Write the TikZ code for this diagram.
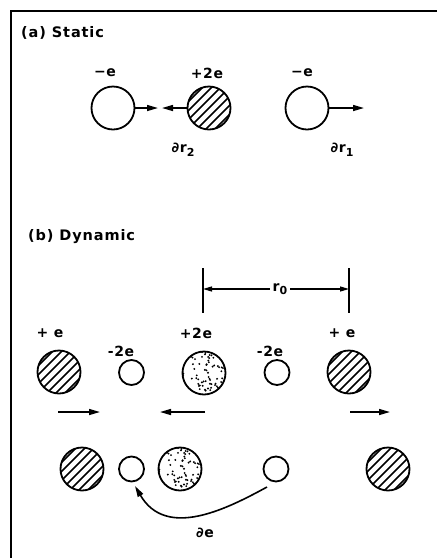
\documentclass[tikz,border=0pt]{standalone}
\usepackage{fontspec}
\setmainfont{DejaVu Sans}
\usetikzlibrary{arrows.meta,calc}
\newcommand{\labfont}{\fontsize{14}{16}\bfseries\addfontfeatures{LetterSpace=5}}
\newcommand{\titfont}{\fontsize{14.5}{16}\bfseries\addfontfeatures{LetterSpace=6}}
\newcommand{\subfont}{\fontsize{11}{12}\bfseries}
\begin{document}
\begin{tikzpicture}[x=1pt,y=-1pt,
  ball/.style={circle,draw,line width=1.8pt,inner sep=0pt,minimum size=#1},
  ball/.default=43pt,
  hatched/.style={ball,path picture={
      \foreach \i in {-5,...,5}
        \draw[line width=1.6pt] ($(path picture bounding box.center)+(\i*9,0)+(-30,30)$) -- ++(60,-60);}},
  dotted/.style={ball,path picture={
      \pgfmathsetseed{11}
      \foreach \k in {1,...,70}
        \fill ($(path picture bounding box.center)+({21*rand},{21*rand})$) circle (1.05);}},
  small/.style={ball=25pt},
  lab/.style={font=\labfont,inner sep=0pt},
  tit/.style={font=\titfont,inner sep=0pt,anchor=west},
  arr/.style={line width=1.5pt,-{Triangle[length=11pt,width=6pt]}},
  dim/.style={line width=1.3pt,-{Triangle[length=9pt,width=5pt]}}]
\useasboundingbox (0,0) rectangle (437,558);
% frame
\coordinate (fr1) at (437,11);
\coordinate (fr2) at (11,11);
\coordinate (fr3) at (11,558);
\draw[line width=2pt] (fr1) -- (fr2) -- (fr3);

% (a) Static
\node[tit] (ta) at (21,33) {(a) Static};
\node[ball] (La) at (113,108) {};
\node[hatched] (Ha) at (209,108) {};
\node[ball] (Ra) at (307,108) {};
\node[lab] (lLa) at (105,73) {−e};
\node[lab] (lHa) at (207,73) {+2e};
\node[lab] (lRa) at (302,73) {−e};
\coordinate (aL) at (158,108);
\coordinate (aH) at (162,108);
\coordinate (aR) at (364,108);
\draw[arr] (La.east) -- (aL);
\draw[arr] (Ha.west) -- (aH);
\draw[arr] (Ra.east) -- (aR);
\node[lab] (dr2) at (183,150) {∂r\raisebox{-3.5pt}{\subfont 2}};
\node[lab] (dr1) at (342,150) {∂r\raisebox{-3.5pt}{\subfont 1}};

% (b) Dynamic
\node[tit] (tb) at (28,237) {(b) Dynamic};
\coordinate (b1t) at (203,268);
\coordinate (b1b) at (203,313);
\coordinate (b2t) at (349,268);
\coordinate (b2b) at (349,313);
\draw[line width=1.5pt] (b1t) -- (b1b);
\draw[line width=1.5pt] (b2t) -- (b2b);
\node[lab] (r0) at (280,289) {r\raisebox{-3.5pt}{\subfont 0}};
\draw[dim] (r0.west) ++(-3,0) coordinate (r0w) -- (b1t |- r0w);
\draw[dim] (r0.east) ++(3,0) coordinate (r0e) -- (b2t |- r0e);

% top row
\node[hatched] (H1) at (59,372) {};
\node[small] (s1) at (131.5,372.5) {};
\node[dotted] (D1) at (204,373) {};
\node[small] (s2) at (277,372.5) {};
\node[hatched] (H2) at (349,372) {};
\node[lab] (lH1) at (50,333) {+ e};
\node[lab] (ls1) at (121,351) {-2e};
\node[lab] (lD1) at (196,333) {+2e};
\node[lab] (ls2) at (270,351) {-2e};
\node[lab] (lH2) at (342,333) {+ e};

% arrows
\coordinate (m1a) at (58,412); \coordinate (m1b) at (100,412);
\coordinate (m2a) at (205,412); \coordinate (m2b) at (160,412);
\coordinate (m3a) at (350,412); \coordinate (m3b) at (390,412);
\draw[arr] (m1a) -- (m1b);
\draw[arr] (m2a) -- (m2b);
\draw[arr] (m3a) -- (m3b);

% bottom row
\node[hatched] (H3) at (82,469) {};
\node[small] (s3) at (131.5,469) {};
\node[dotted] (D2) at (180,469) {};
\node[small] (s4) at (276,469) {};
\node[hatched] (H4) at (388,469) {};
\coordinate (ds) at ($(s4)+(-9,18)$);
\coordinate (de) at ($(s3)+(3.5,17)$);
\draw[line width=1.6pt,-{Triangle[length=11pt,width=6pt]}] (ds) .. controls (225,510) and (166,539) .. (de);
\node[lab] (dE) at (205,533) {∂e};
\end{tikzpicture}
\end{document}
